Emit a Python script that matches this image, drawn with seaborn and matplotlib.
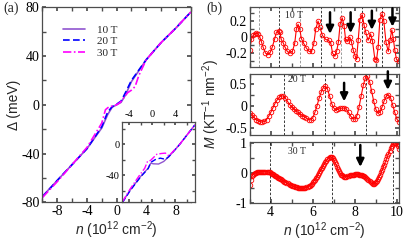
import numpy as np
import matplotlib
matplotlib.use("Agg")
import matplotlib.pyplot as plt
import seaborn as sns
from matplotlib.ticker import MultipleLocator, FormatStrFormatter

# ---- panel (a): gap vs density ----
n_10 = [-10, -8, -6, -4, -2, -1.2, -0.6, 0, 0.6, 1.2, 2, 4, 6, 8, 10]
d_10 = [-75, -62, -49, -36, -19, -8, -2, 0, 2, 8, 19, 37, 51, 63, 76]
n_20 = [-10, -8, -6, -4, -2, -1.2, -0.6, 0, 0.6, 1.2, 2, 4, 6, 8, 10]
d_20 = [-75.5, -62, -49, -36, -18, -6, -1.5, 0.5, 3, 10, 20, 37, 51, 63, 76]
n_30 = [-10, -8, -6, -4, -2, -1.5, -1.0, -0.5, 0, 0.5, 1, 1.5, 2, 2.5, 3, 4, 6, 8, 10]
d_30 = [-76, -63, -49, -35, -15, -4, -1.5, -1, 0, 2, 6, 10, 12, 15, 24, 37, 51, 63, 76]

# inset
in_n10 = [-5.2, -3.8, -2.0, -0.7, -0.25, 0.2, 1.1, 2.0, 2.9, 4.7, 7.4]
in_d10 = [-75, -59, -41.5, -31, -24.5, -25.3, -25.6, -22.3, -16, -1, 24.7]
in_n20 = [-5.2, -3.8, -2.0, -0.7, -0.25, 0.5, 1.4, 2.3, 2.9, 4.7, 7.4]
in_d20 = [-75.5, -59.5, -42, -31.5, -23.5, -20, -18, -19.5, -16, -1, 24.7]
in_n30 = [-5.2, -3.9, -2.2, -1.3, -0.8, -0.3, 0.8, 1.6, 2.3, 2.9, 4.7, 7.4]
in_d30 = [-74.5, -58.5, -40, -31, -22, -21, -13, -12, -11.5, -15, -1, 24.7]

fields = ["10 T", "20 T", "30 T"]
field_colors = ["#9055d0", "#0000ff", "#ff00ff"]
field_styles = ["-", (0, (4, 2)), (0, (5, 1.5, 1, 1.5))]

# ---- panel (b): magnetisation ----
top_n = [3.0, 3.08, 3.16, 3.24, 3.32, 3.4, 3.48, 3.56, 3.63, 3.75, 3.87, 3.98, 4.08, 4.19,
         4.27, 4.37, 4.44, 4.5, 4.59, 4.67, 4.79, 4.9, 5.03, 5.14, 5.22, 5.3, 5.38, 5.46,
         5.57, 5.7, 5.83, 5.94, 6.05, 6.14, 6.25, 6.33, 6.46, 6.62, 6.75, 6.86, 6.94, 7.05,
         7.14, 7.22, 7.3, 7.4, 7.49, 7.56, 7.65, 7.76, 7.84, 7.92, 8.02, 8.08, 8.16, 8.24,
         8.35, 8.44, 8.52, 8.63, 8.75, 8.84, 8.95, 9.03, 9.11, 9.19, 9.3, 9.38, 9.48, 9.59,
         9.67, 9.76, 9.83, 9.9, 9.98, 10.08]
top_m = [-0.165, -0.03, 0.02, 0.04, 0.05, 0.04, 0.0, -0.06, -0.12, -0.2, -0.22, -0.19, -0.12, -0.02,
         0.06, 0.08, 0.06, -0.03, -0.07, -0.12, -0.18, -0.2, -0.18, -0.08, 0.1, 0.16, 0.1, -0.02,
         -0.08, -0.14, -0.18, -0.18, -0.08, 0.1, 0.2, 0.13, 0.02, -0.03, -0.04, -0.08, -0.2, -0.24,
         -0.17, -0.06, 0.16, 0.24, 0.14, -0.03, -0.05, 0.0, -0.06, -0.16, -0.24, -0.28, -0.04, 0.22,
         0.28, 0.15, 0.06, -0.04, 0.04, -0.05, -0.27, -0.29, -0.12, 0.22, 0.29, 0.2, -0.06, -0.18,
         -0.04, 0.09, -0.02, -0.16, -0.28, -0.3]

mid_n = np.round(np.arange(3.0, 10.15, 0.1), 2)
mid_m = [-0.17, -0.21, -0.26, -0.31, -0.34, -0.36, -0.37, -0.35, -0.31, -0.24,
         -0.15, -0.05, 0.05, 0.13, 0.19, 0.23, 0.22, 0.17, 0.1, 0.03,
         -0.02, -0.07, -0.11, -0.15, -0.19, -0.22, -0.25, -0.28, -0.31, -0.32,
         -0.27, -0.15, 0.0, 0.17, 0.31, 0.41, 0.45, 0.38, 0.22, 0.05,
         -0.05, -0.09, -0.08, -0.06, -0.05, -0.05, -0.08, -0.15, -0.23, -0.29,
         -0.3, -0.22, -0.03, 0.22, 0.46, 0.63, 0.67, 0.55, 0.33, 0.1,
         -0.08, -0.17, -0.14, -0.02, 0.12, 0.22, 0.25, 0.18, 0.02, -0.15,
         -0.3, -0.36]

bot_n = np.round(np.arange(3.0, 10.125, 0.05), 2)
bot_m = [-0.38, -0.22, -0.11, -0.05, -0.02, 0.0, 0.01, 0.02, 0.03, 0.03,
         0.04, 0.04, 0.05, 0.05, 0.05, 0.05, 0.05, 0.04, 0.03, 0.02,
         0.0, -0.02, -0.04, -0.06, -0.09, -0.11, -0.13, -0.15, -0.17, -0.19,
         -0.21, -0.24, -0.26, -0.28, -0.3, -0.32, -0.34, -0.36, -0.38, -0.39,
         -0.41, -0.42, -0.44, -0.45, -0.46, -0.47, -0.48, -0.49, -0.49, -0.5,
         -0.5, -0.5, -0.49, -0.48, -0.47, -0.45, -0.43, -0.41, -0.38, -0.35,
         -0.31, -0.27, -0.22, -0.17, -0.12, -0.06, 0.0, 0.06, 0.12, 0.18,
         0.24, 0.3, 0.36, 0.41, 0.46, 0.5, 0.52, 0.53, 0.52, 0.49,
         0.44, 0.37, 0.29, 0.21, 0.13, 0.06, 0.0, -0.05, -0.08, -0.1,
         -0.12, -0.12, -0.12, -0.11, -0.09, -0.08, -0.07, -0.06, -0.05, -0.05,
         -0.04, -0.04, -0.04, -0.04, -0.05, -0.05, -0.06, -0.07, -0.09, -0.11,
         -0.13, -0.16, -0.19, -0.23, -0.27, -0.3, -0.33, -0.35, -0.36, -0.34,
         -0.31, -0.26, -0.2, -0.13, -0.06, 0.02, 0.1, 0.19, 0.28, 0.37,
         0.46, 0.55, 0.64, 0.73, 0.81, 0.88, 0.94, 0.98, 1.0, 0.99,
         0.95, 0.88, 0.8]

# dashed guide lines (position, colour) and arrows (n, tail, tip)
top_vlines = [3.43, 4.41, 5.39, 6.37, 7.35, 8.33, 9.31]
top_vcolors = ["0.55", "k", "0.55", "k", "0.55", "k", "k"]
mid_vlines = [4.65, 6.6, 8.55]
bot_vlines = [3.97, 6.9, 9.83]
top_arrows = [(6.82, 0.31, 0.04), (7.8, 0.31, 0.05), (8.81, 0.33, 0.09), (9.79, 0.36, 0.13)]
mid_arrows = [(7.49, 0.52, 0.1), (9.57, 0.78, 0.36)]
bot_arrows = [(8.26, 0.92, 0.2)]

sns.set_theme(style="ticks")
plt.rcParams.update({
    "font.family": ["Liberation Serif", "DejaVu Serif"],
    "font.size": 10,
    "axes.unicode_minus": False,
    "mathtext.fontset": "custom",
    "mathtext.rm": "Liberation Sans",
    "mathtext.it": "Liberation Sans:italic",
    "axes.edgecolor": "0.3",
    "axes.linewidth": 0.9,
    "xtick.direction": "in",
    "ytick.direction": "in",
    "xtick.top": True,
    "ytick.right": True,
    "xtick.major.size": 3,
    "ytick.major.size": 3,
    "xtick.minor.size": 3,
    "ytick.minor.size": 3,
    "xtick.color": "0.3",
    "ytick.color": "0.3",
    "xtick.labelcolor": "black",
    "ytick.labelcolor": "black",
    "xtick.labelsize": 10,
    "ytick.labelsize": 10,
    "xtick.major.pad": 2,
    "ytick.major.pad": 2,
})
sans = ["Liberation Sans", "DejaVu Sans"]


def ticks(ax, xmaj, xmin, ymaj, ymin):
    ax.xaxis.set_major_locator(MultipleLocator(xmaj))
    ax.xaxis.set_minor_locator(MultipleLocator(xmin))
    ax.yaxis.set_major_locator(MultipleLocator(ymaj))
    ax.yaxis.set_minor_locator(MultipleLocator(ymin))
    ax.tick_params(which="both", direction="in", top=True, right=True)


fig = plt.figure(figsize=(4.07, 2.42), dpi=100)

# ---- (a) main ----
ax = fig.add_axes([0.1044, 0.164, 0.3641, 0.8058])
for n, d, lab, c, ls in zip([n_10, n_20, n_30], [d_10, d_20, d_30], fields, field_colors, field_styles):
    sns.lineplot(x=n, y=d, ax=ax, color=c, linestyle=ls, lw=1.2, label=lab, sort=False)
ax.set_xlim(-10, 10)
ax.set_ylim(-80, 80)
ticks(ax, 4, 2, 40, 20)
ax.set_xlabel(r"$n$ (10$^{12}$ cm$^{-2}$)", family=sans, fontsize=10, labelpad=1)
ax.set_ylabel("Δ (meV)", family=sans, fontsize=10, labelpad=0)
ax.legend(loc="upper left", bbox_to_anchor=(0.14, 0.91), frameon=False, fontsize=8,
          handlelength=2.0, handletextpad=1.0, labelspacing=0.15, borderpad=0, borderaxespad=0)
fig.text(0.008, 0.965, "(a)", fontsize=10, va="center")

# ---- (a) inset ----
ai = fig.add_axes([0.3005, 0.164, 0.178, 0.333])
for n, d, c, ls in zip([in_n10, in_n20, in_n30], [in_d10, in_d20, in_d30], field_colors, field_styles):
    sns.lineplot(x=n, y=d, ax=ai, color=c, linestyle=ls, lw=1.0, sort=False)
ai.set_xlim(-5.2, 7.4)
ai.set_ylim(-75, 29)
ticks(ai, 4, 2, 40, 20)
ai.tick_params(which="both", labeltop=True, labelbottom=False, labelsize=7.5, length=2.5)
ai.set_facecolor("white")

# ---- (b) ----
pos = [[0.6135, 0.7244, 0.3668, 0.2479],
       [0.6135, 0.4421, 0.3668, 0.2521],
       [0.6135, 0.1591, 0.3668, 0.2554]]
series = [(top_n, top_m), (mid_n, mid_m), (bot_n, bot_m)]
ylims = [(-0.37, 0.38), (-0.66, 0.72), (-1.0, 1.03)]
ysteps = [(0.2, 0.1), (0.5, 0.25), (1.0, 0.5)]
vlines = [top_vlines, mid_vlines, bot_vlines]
vcolors = [top_vcolors, ["k"] * 3, ["k"] * 3]
arrows = [top_arrows, mid_arrows, bot_arrows]
tags = [("10 T", 5.1, 0.27), ("20 T", 5.24, 0.6), ("30 T", 5.24, 0.72)]

for i, p in enumerate(pos):
    axb = fig.add_axes(p)
    for xv, cv in zip(vlines[i], vcolors[i]):
        axb.axvline(xv, color=cv, ls=(0, (3, 2)), lw=0.6)
    sns.lineplot(x=series[i][0], y=series[i][1], ax=axb, color="red", lw=0.8, marker="o",
                 markersize=3.3, markerfacecolor="none", markeredgecolor="red",
                 markeredgewidth=0.6, sort=False)
    for xa, ya0, ya1 in arrows[i]:
        axb.annotate("", xy=(xa, ya1), xytext=(xa, ya0),
                     arrowprops=dict(arrowstyle="-|>,head_width=0.22,head_length=0.45",
                                     color="black", lw=1.8, shrinkA=0, shrinkB=0))
    axb.text(tags[i][1], tags[i][2], tags[i][0], fontsize=7, ha="center", va="center")
    axb.set_xlim(3, 10.1)
    axb.set_ylim(*ylims[i])
    ticks(axb, 2, 1, ysteps[i][0], ysteps[i][1])
    axb.yaxis.set_major_formatter(FormatStrFormatter("%g"))
    if i < 2:
        axb.tick_params(labelbottom=False)
    else:
        axb.set_xlabel(r"$n$ (10$^{12}$ cm$^{-2}$)", family=sans, fontsize=10, labelpad=1)
    if i == 1:
        axb.set_ylabel(r"$M$ (KT$^{-1}$ nm$^{-2}$)", family=sans, fontsize=10, labelpad=2)

fig.text(0.508, 0.965, "(b)", fontsize=10, va="center")

fig.savefig("out.png", dpi=100)
